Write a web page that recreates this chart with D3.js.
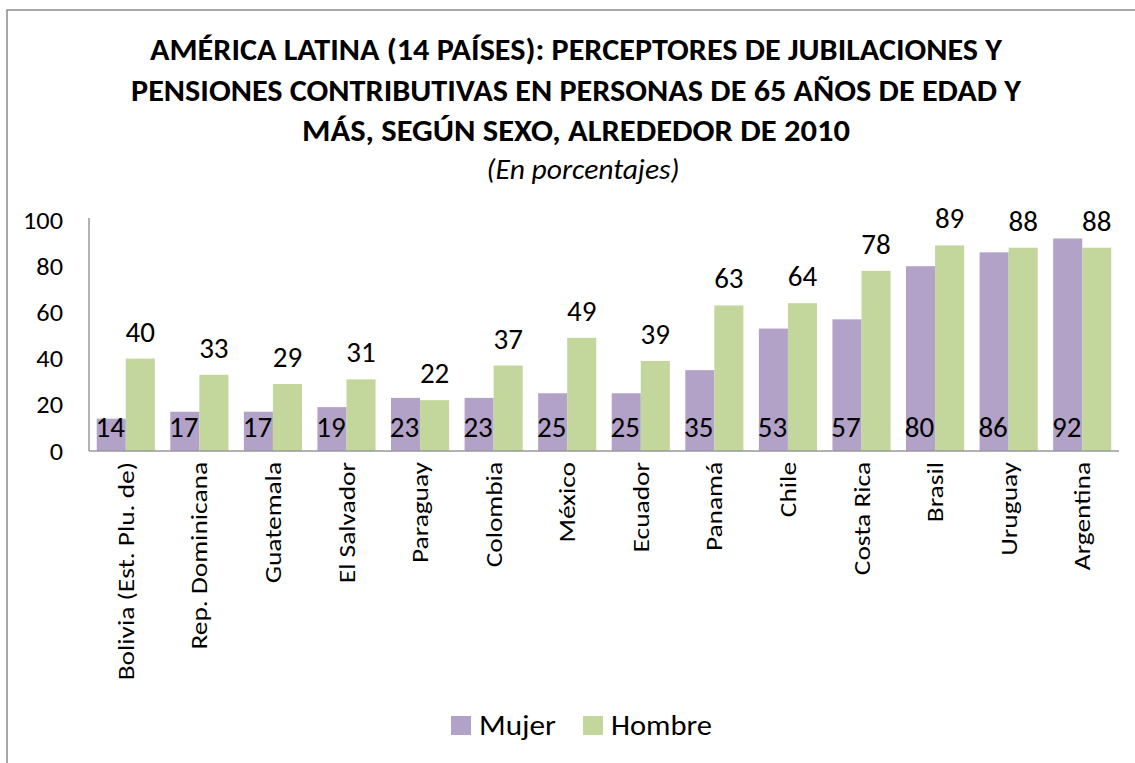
<!DOCTYPE html>
<html><head><meta charset="utf-8">
<script src="https://cdn.jsdelivr.net/npm/d3@7"></script>
<style>body{margin:0;background:#fff}svg{display:block}</style>
</head><body>
<svg id="c" width="1135" height="763"></svg>
<script>
const categories = ["Bolivia (Est. Plu. de)","Rep. Dominicana","Guatemala","El Salvador","Paraguay","Colombia","México","Ecuador","Panamá","Chile","Costa Rica","Brasil","Uruguay","Argentina"];
const mujer = [14,17,17,19,23,23,25,25,35,53,57,80,86,92];
const hombre = [40,33,29,31,22,37,49,39,63,64,78,89,88,88];
const seriesNames = ["Mujer","Hombre"];
const seriesColors = ["#B3A2C7","#C3D69B"];
const yTicks = [0,20,40,60,80,100];
const titleLines = ["AMÉRICA LATINA (14 PAÍSES): PERCEPTORES DE JUBILACIONES Y","PENSIONES CONTRIBUTIVAS EN PERSONAS DE 65 AÑOS DE EDAD Y","MÁS, SEGÚN SEXO, ALREDEDOR DE 2010"];
const subtitle = "(En porcentajes)";

const FONT = "Carlito, Calibri, 'Noto Sans', sans-serif";
const svg = d3.select("#c");

// frame
svg.append("rect").attr("x",7).attr("y",10).attr("width",1140).attr("height",770)
  .attr("fill","none").attr("stroke","#8c8c8c").attr("stroke-width",1.5);

// titles
const tl = [ [60,852], [101,890], [141,548] ];
titleLines.forEach((t,i)=>{
  svg.append("text").attr("x",576).attr("y",tl[i][0]).attr("text-anchor","middle")
    .attr("font-family",FONT).attr("font-weight","bold").attr("font-size",31)
    .attr("textLength",tl[i][1]).attr("lengthAdjust","spacingAndGlyphs")
    .attr("fill","#000").text(t);
});
svg.append("text").attr("x",583).attr("y",179).attr("text-anchor","middle")
  .attr("font-family",FONT).attr("font-style","italic").attr("font-size",29)
  .attr("textLength",193).attr("lengthAdjust","spacingAndGlyphs").text(subtitle);

const x0 = d3.scaleBand().domain(categories).range([89,1119]).paddingInner(0.21).paddingOuter(0.105);
const x1 = d3.scaleBand().domain(seriesNames).range([0,x0.bandwidth()]);
const y = d3.scaleLinear().domain([0,100]).range([451,220]);

function stretch(sel, f){
  sel.each(function(){ const L=this.getComputedTextLength(); d3.select(this).attr("textLength",L*f).attr("lengthAdjust","spacingAndGlyphs"); });
}

// y axis
const yAxis = svg.append("g").attr("transform","translate(89,0)")
  .call(d3.axisLeft(y).tickValues(yTicks).tickSize(0).tickPadding(26));
yAxis.select(".domain").attr("stroke","#999").attr("stroke-width",1.5).attr("d","M0,218V451");
const yt = yAxis.selectAll("text").attr("font-family",FONT).attr("font-size",25).attr("fill","#000");
let f100 = 1;
yt.each(function(d){ if(d===100) f100 = 40/this.getComputedTextLength(); });
stretch(yt, f100);

const data = categories.map((c,i)=>({c, vals:[mujer[i],hombre[i]]}));
const g = svg.append("g");
const groups = g.selectAll("g.cat").data(data).join("g").attr("class","cat")
  .attr("transform",d=>`translate(${x0(d.c)},0)`);
groups.selectAll("rect").data(d=>d.vals.map((v,k)=>({k,v}))).join("rect")
  .attr("x",d=>x1(seriesNames[d.k])).attr("width",x1.bandwidth())
  .attr("y",d=>y(d.v)).attr("height",d=>y(0)-y(d.v))
  .attr("fill",d=>seriesColors[d.k]);

// labels
groups.append("text").attr("x",x1("Mujer")+x1.bandwidth()/2-1).attr("y",437)
  .attr("text-anchor","middle").attr("font-family",FONT).attr("font-size",29).attr("fill","#000")
  .text(d=>d.vals[0]);
groups.append("text").attr("x",x1("Hombre")+x1.bandwidth()/2).attr("y",d=>y(d.vals[1])-17)
  .attr("text-anchor","middle").attr("font-family",FONT).attr("font-size",29).attr("fill","#000")
  .text(d=>d.vals[1]);

// x axis
const xAxis = svg.append("g").attr("transform","translate(0,451)")
  .call(d3.axisBottom(x0).tickSize(0).tickPadding(0));
xAxis.select(".domain").attr("stroke","#999").attr("stroke-width",1.5).attr("d","M89,0H1119");
const xt = xAxis.selectAll("text").attr("font-family",FONT).attr("font-size",23).attr("fill","#000")
  .attr("text-anchor","end").attr("dy",null).attr("y",0).attr("x",0)
  .attr("transform","translate(8,11) rotate(-90)");
stretch(xt, 1.19);

// legend
const leg = svg.append("g");
const lx = [451,583];
const lw = [77,101];
seriesNames.forEach((n,i)=>{
  leg.append("rect").attr("x",lx[i]).attr("y",716).attr("width",20).attr("height",19).attr("fill",seriesColors[i]);
  leg.append("text").attr("x",lx[i]+28).attr("y",735).attr("font-family",FONT).attr("font-size",28)
    .attr("textLength",lw[i]).attr("lengthAdjust","spacingAndGlyphs")
    .attr("fill","#000").text(n);
});
</script>
</body></html>
